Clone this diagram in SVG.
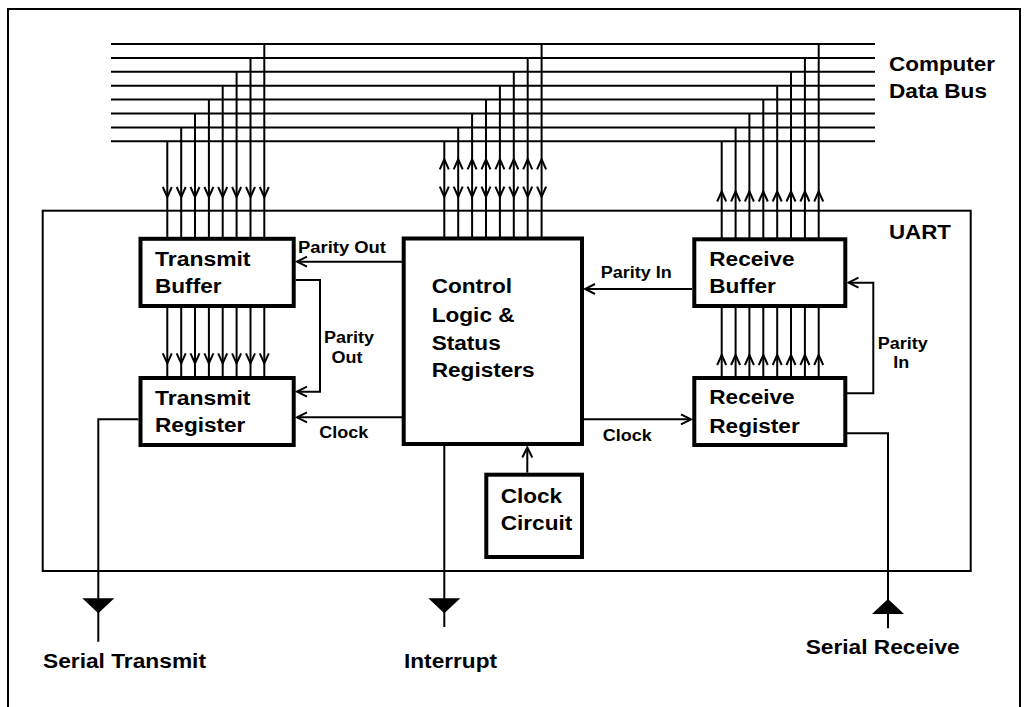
<svg xmlns="http://www.w3.org/2000/svg" xmlns:xlink="http://www.w3.org/1999/xlink" width="1029" height="707" viewBox="0 0 1029 707">
<style>
.ln{stroke:#000;stroke-width:2;fill:none}
.box{stroke:#000;stroke-width:4;fill:#fff}
.t{font-family:"Liberation Sans",Arial,sans-serif;font-weight:bold;fill:#000}
.big{font-size:20px}
.sm{font-size:16px}
.ah{stroke:#000;stroke-width:2;fill:none}
</style>
<defs>
<path id="ad" class="ah" d="M-4.5,-10 L0,0 L4.5,-10"/>
<path id="au" class="ah" d="M-4.5,10 L0,0 L4.5,10"/>
<marker id="m" markerUnits="userSpaceOnUse" markerWidth="14" markerHeight="14" refX="0" refY="0" viewBox="-12 -7 14 14" orient="auto">
<path d="M-10,-5 L0,0 L-10,5" stroke="#000" stroke-width="2" fill="none"/>
</marker>
</defs>
<rect width="1029" height="707" fill="#fff"/>
<path class="ln" d="M8,707 V9 H1020 V707" stroke-width="1.8"/>

<g id="bus">
<path class="ln" d="M111,44 H875 M111,57.9 H875 M111,71.8 H875 M111,85.7 H875 M111,99.6 H875 M111,113.5 H875 M111,127.4 H875 M111,141.3 H875"/>
<text class="t big" x="889" y="71" textLength="106" lengthAdjust="spacingAndGlyphs">Computer</text>
<text class="t big" x="889" y="98" textLength="98" lengthAdjust="spacingAndGlyphs">Data Bus</text>
</g>

<g id="uart">
<rect x="42.7" y="210.7" width="928" height="360.3" fill="none" stroke="#000" stroke-width="2"/>
<text class="t big" x="889" y="239" textLength="62" lengthAdjust="spacingAndGlyphs">UART</text>
</g>

<g id="connectors">
<!-- transmit bus columns -->
<path class="ln" d="M167.3,141.3 V238 M181.2,127.4 V238 M195,113.5 V238 M208.9,99.6 V238 M222.7,85.7 V238 M236.6,71.8 V238 M250.5,57.9 V238 M264.3,44 V238"/>
<use href="#ad" x="167.3" y="197"/><use href="#ad" x="181.2" y="197"/><use href="#ad" x="195" y="197"/><use href="#ad" x="208.9" y="197"/><use href="#ad" x="222.7" y="197"/><use href="#ad" x="236.6" y="197"/><use href="#ad" x="250.5" y="197"/><use href="#ad" x="264.3" y="197"/>
<!-- control bus columns -->
<path class="ln" d="M444.3,141.3 V238 M458.2,127.4 V238 M472.1,113.5 V238 M486,99.6 V238 M499.9,85.7 V238 M513.8,71.8 V238 M527.7,57.9 V238 M541.6,44 V238"/>
<use href="#au" x="444.3" y="159.3"/><use href="#au" x="458.2" y="159.3"/><use href="#au" x="472.1" y="159.3"/><use href="#au" x="486" y="159.3"/><use href="#au" x="499.9" y="159.3"/><use href="#au" x="513.8" y="159.3"/><use href="#au" x="527.7" y="159.3"/><use href="#au" x="541.6" y="159.3"/>
<use href="#ad" x="444.3" y="196.7"/><use href="#ad" x="458.2" y="196.7"/><use href="#ad" x="472.1" y="196.7"/><use href="#ad" x="486" y="196.7"/><use href="#ad" x="499.9" y="196.7"/><use href="#ad" x="513.8" y="196.7"/><use href="#ad" x="527.7" y="196.7"/><use href="#ad" x="541.6" y="196.7"/>
<!-- receive bus columns -->
<path class="ln" d="M721.7,141.3 V239 M735.6,127.4 V239 M749.4,113.5 V239 M763.3,99.6 V239 M777.2,85.7 V239 M791,71.8 V239 M804.9,57.9 V239 M818.7,44 V239"/>
<use href="#au" x="721.7" y="191.5"/><use href="#au" x="735.6" y="191.5"/><use href="#au" x="749.4" y="191.5"/><use href="#au" x="763.3" y="191.5"/><use href="#au" x="777.2" y="191.5"/><use href="#au" x="791" y="191.5"/><use href="#au" x="804.9" y="191.5"/><use href="#au" x="818.7" y="191.5"/>
<!-- buffer to register -->
<path class="ln" d="M167.3,306 V378 M181.2,306 V378 M195,306 V378 M208.9,306 V378 M222.7,306 V378 M236.6,306 V378 M250.5,306 V378 M264.3,306 V378"/>
<use href="#ad" x="167.3" y="363.3"/><use href="#ad" x="181.2" y="363.3"/><use href="#ad" x="195" y="363.3"/><use href="#ad" x="208.9" y="363.3"/><use href="#ad" x="222.7" y="363.3"/><use href="#ad" x="236.6" y="363.3"/><use href="#ad" x="250.5" y="363.3"/><use href="#ad" x="264.3" y="363.3"/>
<!-- register to buffer -->
<path class="ln" d="M721.7,306 V378 M735.6,306 V378 M749.4,306 V378 M763.3,306 V378 M777.2,306 V378 M791,306 V378 M804.9,306 V378 M818.7,306 V378"/>
<use href="#au" x="721.7" y="355"/><use href="#au" x="735.6" y="355"/><use href="#au" x="749.4" y="355"/><use href="#au" x="763.3" y="355"/><use href="#au" x="777.2" y="355"/><use href="#au" x="791" y="355"/><use href="#au" x="804.9" y="355"/><use href="#au" x="818.7" y="355"/>
<!-- control lines -->
<path class="ln" d="M402,261.7 H297" marker-end="url(#m)"/>
<path class="ln" d="M295.7,280 H320 V391.7 H297" marker-end="url(#m)"/>
<path class="ln" d="M402,417.3 H297" marker-end="url(#m)"/>
<path class="ln" d="M692,289 H585" marker-end="url(#m)"/>
<path class="ln" d="M584,419.3 H691" marker-end="url(#m)"/>
<path class="ln" d="M847,393.3 H873.3 V282.7 H848.5" marker-end="url(#m)"/>
<path class="ln" d="M527.3,472.7 V447.5" marker-end="url(#m)"/>
<!-- serial lines -->
<path class="ln" d="M138.5,419.3 H98.3 V641.7"/>
<path d="M82.3,598.3 H114.3 L98.3,613.3 Z" fill="#000"/>
<path class="ln" d="M444.3,446 V627"/>
<path d="M428.3,598.3 H460.3 L444.3,613.3 Z" fill="#000"/>
<path class="ln" d="M847,433.3 H888 V628.3"/>
<path d="M872,614 H904 L888,599 Z" fill="#000"/>
<!-- labels -->
<text class="t sm" x="298" y="253" textLength="88" lengthAdjust="spacingAndGlyphs">Parity Out</text>
<text class="t sm" x="349" y="343.3" text-anchor="middle" textLength="50" lengthAdjust="spacingAndGlyphs">Parity</text>
<text class="t sm" x="347" y="363.3" text-anchor="middle" textLength="31" lengthAdjust="spacingAndGlyphs">Out</text>
<text class="t sm" x="319.3" y="438.3" textLength="49" lengthAdjust="spacingAndGlyphs">Clock</text>
<text class="t sm" x="600.7" y="278.3" textLength="71" lengthAdjust="spacingAndGlyphs">Parity In</text>
<text class="t sm" x="602.7" y="440.7" textLength="49" lengthAdjust="spacingAndGlyphs">Clock</text>
<text class="t sm" x="877.7" y="349" textLength="50" lengthAdjust="spacingAndGlyphs">Parity</text>
<text class="t sm" x="893.3" y="368.3" textLength="16" lengthAdjust="spacingAndGlyphs">In</text>
<text class="t big" x="43" y="668.3" textLength="163" lengthAdjust="spacingAndGlyphs">Serial Transmit</text>
<text class="t big" x="404" y="668.3" textLength="93" lengthAdjust="spacingAndGlyphs">Interrupt</text>
<text class="t big" x="805.7" y="654.3" textLength="154" lengthAdjust="spacingAndGlyphs">Serial Receive</text>
</g>

<g id="transmit-buffer">
<rect class="box" x="140.5" y="238.8" width="153.2" height="67.2"/>
<text class="t big" x="155" y="266" textLength="95.5" lengthAdjust="spacingAndGlyphs">Transmit</text>
<text class="t big" x="155" y="293" textLength="66.5" lengthAdjust="spacingAndGlyphs">Buffer</text>
</g>
<g id="transmit-register">
<rect class="box" x="140.5" y="378" width="153.2" height="67"/>
<text class="t big" x="155" y="405" textLength="95.5" lengthAdjust="spacingAndGlyphs">Transmit</text>
<text class="t big" x="155" y="432" textLength="90.4" lengthAdjust="spacingAndGlyphs">Register</text>
</g>
<g id="control">
<rect class="box" x="403.7" y="238.5" width="178.3" height="205.5"/>
<text class="t big" x="431.7" y="293.3" textLength="80.3" lengthAdjust="spacingAndGlyphs">Control</text>
<text class="t big" x="431.7" y="321.7" textLength="82.9" lengthAdjust="spacingAndGlyphs">Logic &amp;</text>
<text class="t big" x="431.7" y="350" textLength="69" lengthAdjust="spacingAndGlyphs">Status</text>
<text class="t big" x="431.7" y="377.3" textLength="103" lengthAdjust="spacingAndGlyphs">Registers</text>
</g>
<g id="clock-circuit">
<rect class="box" x="486.3" y="474.7" width="95.7" height="82.3"/>
<text class="t big" x="500.7" y="502.7" textLength="61.5" lengthAdjust="spacingAndGlyphs">Clock</text>
<text class="t big" x="500.7" y="530" textLength="71.6" lengthAdjust="spacingAndGlyphs">Circuit</text>
</g>
<g id="receive-buffer">
<rect class="box" x="694.3" y="239.3" width="151" height="66.7"/>
<text class="t big" x="709.3" y="265.7" textLength="85.4" lengthAdjust="spacingAndGlyphs">Receive</text>
<text class="t big" x="709.3" y="293.3" textLength="66.5" lengthAdjust="spacingAndGlyphs">Buffer</text>
</g>
<g id="receive-register">
<rect class="box" x="694.3" y="378" width="151" height="67"/>
<text class="t big" x="709.3" y="404" textLength="85.4" lengthAdjust="spacingAndGlyphs">Receive</text>
<text class="t big" x="709.3" y="432.7" textLength="90.4" lengthAdjust="spacingAndGlyphs">Register</text>
</g>
</svg>
